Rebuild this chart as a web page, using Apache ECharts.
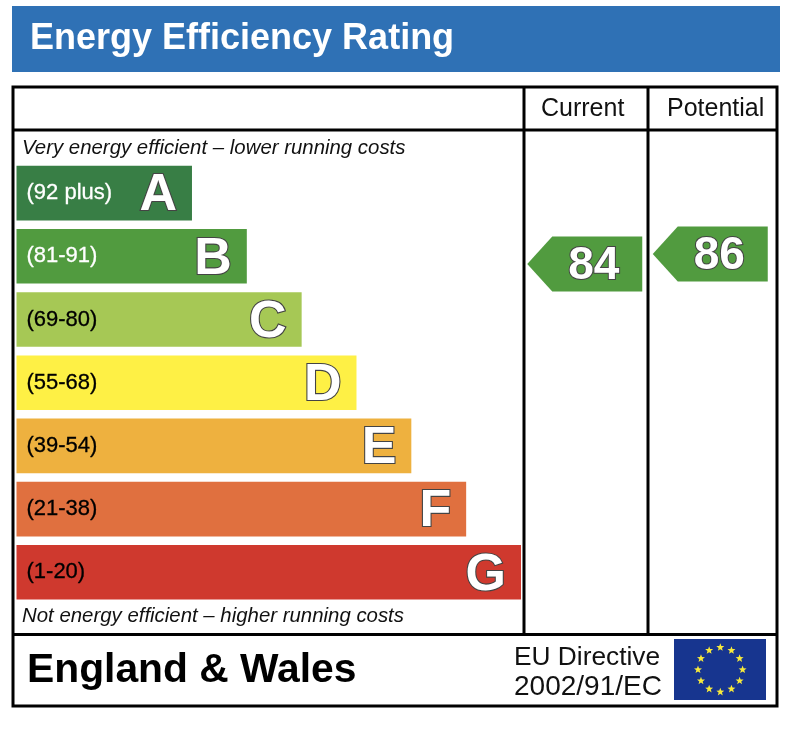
<!DOCTYPE html>
<html>
<head>
<meta charset="utf-8">
<title>Energy Efficiency Rating</title>
<style>
html, body { margin: 0; padding: 0; background: #fff; }
#container { width: 794px; height: 730px; }
</style>
<script src="https://cdn.jsdelivr.net/npm/echarts@6/dist/echarts.min.js"></script>
</head>
<body>
<div id="container"></div>
<script>
var bands = ['A', 'B', 'C', 'D', 'E', 'F', 'G'];
var ranges = ['(92 plus)', '(81-91)', '(69-80)', '(55-68)', '(39-54)', '(21-38)', '(1-20)'];
var barLengths = [3.2, 4.2, 5.2, 6.2, 7.2, 8.2, 9.2];
var bandColors = ['#387e45', '#519b3f', '#a6c855', '#fef045', '#eeb13f', '#e0703f', '#cf392e'];
var rangeColors = ['#ffffff', '#ffffff', '#000000', '#000000', '#000000', '#000000', '#000000'];
var scoreColumns = ['Current', 'Potential'];
var scores = [84, 86];
var scoreColor = '#519b3f';

var font = '"Liberation Sans", Arial, sans-serif';
var dom = document.getElementById('container');
var myChart = echarts.init(dom, null, { renderer: 'canvas' });

function text(x, y, str, size, opts) {
    opts = opts || {};
    return {
        type: 'text',
        x: x,
        y: y,
        z: 10,
        style: {
            text: str,
            fill: opts.fill || '#000',
            font: (opts.style || '') + ' ' + size + 'px ' + font,
            textVerticalAlign: 'middle'
        }
    };
}

function line(x1, y1, x2, y2) {
    return {
        type: 'line',
        z: 5,
        shape: { x1: x1, y1: y1, x2: x2, y2: y2 },
        style: { stroke: '#000', lineWidth: 3 }
    };
}

// the twelve stars of the flag
function flagStars(cx, cy, r, starR) {
    var out = [];
    for (var i = 0; i < 12; i++) {
        var a = i / 12 * Math.PI * 2;
        var sx = cx + Math.sin(a) * r;
        var sy = cy - Math.cos(a) * r;
        var pts = [];
        for (var j = 0; j < 10; j++) {
            var b = j / 10 * Math.PI * 2;
            var rr = j % 2 ? starR * 0.42 : starR;
            pts.push([sx + Math.sin(b) * rr, sy - Math.cos(b) * rr]);
        }
        out.push({ type: 'polygon', z: 7, shape: { points: pts }, style: { fill: '#f7ea3c' } });
    }
    return out;
}

function renderArrow(params, api) {
    var p = api.coord([api.value(0), api.value(1)]);
    var left = p[0] - 57.5, right = p[0] + 57.5, halfH = 27.5;
    return {
        type: 'group',
        children: [{
            type: 'polygon',
            shape: {
                points: [[left, p[1]], [left + 25, p[1] - halfH], [right, p[1] - halfH],
                    [right, p[1] + halfH], [left + 25, p[1] + halfH]]
            },
            style: { fill: scoreColor }
        }, {
            type: 'text',
            x: p[0] + 9,
            y: p[1] + 2,
            style: {
                text: String(api.value(1)),
                fill: '#fff',
                stroke: '#444',
                lineWidth: 2,
                font: 'bold 46px ' + font,
                textAlign: 'center',
                textVerticalAlign: 'middle'
            }
        }]
    };
}

var option = {
    backgroundColor: '#fff',
    animation: false,
    grid: [
        { left: 16.5, top: 161.5, width: 504.5, height: 442.4 },
        { left: 522, top: 184, width: 251, height: 500 }
    ],
    xAxis: [
        { gridIndex: 0, type: 'value', min: 0, max: 9.2, show: false },
        { gridIndex: 1, type: 'category', data: scoreColumns, show: false }
    ],
    yAxis: [
        { gridIndex: 0, type: 'category', inverse: true, data: bands, show: false },
        { gridIndex: 1, type: 'value', min: 0, max: 100, show: false }
    ],
    series: [
        {
            type: 'bar',
            name: 'range',
            xAxisIndex: 0,
            yAxisIndex: 0,
            barWidth: 54.6,
            barGap: '-100%',
            data: barLengths.map(function (v, i) {
                return {
                    value: v,
                    itemStyle: { color: bandColors[i] },
                    label: {
                        show: true,
                        position: 'insideLeft',
                        distance: 10,
                        formatter: ranges[i],
                        color: rangeColors[i],
                        fontFamily: font,
                        fontSize: 22,
                        textBorderColor: rangeColors[i],
                        textBorderWidth: 0.3
                    }
                };
            })
        },
        {
            type: 'bar',
            name: 'band',
            xAxisIndex: 0,
            yAxisIndex: 0,
            barWidth: 54.6,
            barGap: '-100%',
            itemStyle: { color: 'transparent' },
            label: {
                show: true,
                position: 'insideRight',
                distance: 15,
                offset: [0, 3],
                formatter: function (p) { return bands[p.dataIndex]; },
                color: '#fff',
                fontFamily: font,
                fontWeight: 'bold',
                fontSize: 52,
                textBorderColor: '#444',
                textBorderWidth: 2.2
            },
            data: barLengths
        },
        {
            type: 'custom',
            name: 'scores',
            xAxisIndex: 1,
            yAxisIndex: 1,
            renderItem: renderArrow,
            data: scores.map(function (s, i) { return [i, s]; })
        }
    ],
    graphic: [
        { type: 'rect', z: 1, shape: { x: 12, y: 6, width: 768, height: 66 }, style: { fill: '#2f71b5' } },
        text(30, 39, 'Energy Efficiency Rating', 36, { fill: '#fff', style: 'bold' }),
        { type: 'rect', z: 5, shape: { x: 13, y: 87, width: 764, height: 619 }, style: { fill: 'none', stroke: '#000', lineWidth: 3 } },
        line(13, 130, 777, 130),
        line(13, 634.5, 777, 634.5),
        line(524, 87, 524, 634),
        line(648, 87, 648, 634),
        text(541, 109, scoreColumns[0], 25, { fill: '#111' }),
        text(667, 109, scoreColumns[1], 25, { fill: '#111' }),
        text(22, 148, 'Very energy efficient \u2013 lower running costs', 20.4, { style: 'italic', fill: '#111' }),
        text(22, 616, 'Not energy efficient \u2013 higher running costs', 20.4, { style: 'italic', fill: '#111' }),
        text(27, 671, 'England & Wales', 40.8, { style: 'bold' }),
        text(514, 658, 'EU Directive', 26.3, { fill: '#111' }),
        text(514, 687, '2002/91/EC', 28, { fill: '#111' }),
        { type: 'rect', z: 6, shape: { x: 674, y: 639, width: 92, height: 61 }, style: { fill: '#17358f' } }
    ].concat(flagStars(720.3, 669.7, 22.3, 4.2))
};

if (option && typeof option === 'object') {
    myChart.setOption(option);
}
</script>
</body>
</html>
